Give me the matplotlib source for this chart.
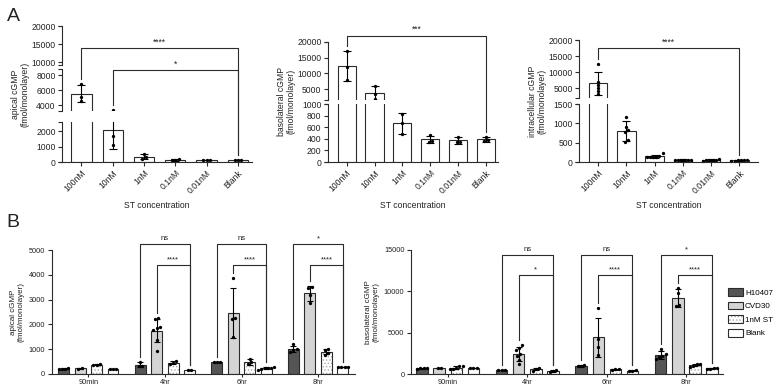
import numpy as np
import matplotlib
matplotlib.use('Agg')
import matplotlib.pyplot as plt
from matplotlib.patches import Patch

# ---- data ----
conc = ['100nM', '10nM', '1nM', '0.1nM', '0.01nM', 'Blank']

apical_mean = [5500, 2040, 340, 150, 110, 110]
apical_sd = [1150, 1170, 160, 60, 10, 10]
apical_pts = [[6800, 5100, 4600], [3330, 1700, 1080], [520, 300, 200],
              [220, 110, 110], [110, 110, 110], [110, 110, 110]]

baso_mean = [12400, 3800, 670, 390, 375, 395]
baso_sd = [4650, 2100, 180, 60, 55, 45]
baso_pts = [[17100, 12100, 7900], [6000, 3600, 1800], [840, 680, 490],
            [460, 360, 350], [430, 350, 345], [440, 375, 370]]

intra_mean = [6550, 800, 150, 50, 50, 40]
intra_sd = [3600, 260, 40, 15, 20, 12]
intra_pts = [[12400, 7000, 6000, 5200, 4300, 3100], [1170, 910, 830, 780, 570, 530],
             [220, 160, 140, 130, 120, 130], [60, 50, 40, 55, 45, 40],
             [70, 60, 40, 45, 35, 55], [50, 40, 30, 45, 35, 40]]

# significance brackets: (from, to, height, label)
apical_sig = [(0, 5, 13900, '****'), (1, 5, 8670, '*')]
baso_sig = [(0, 5, 21950, '***')]
intra_sig = [(0, 5, 17400, '****')]

times = ['90min', '4hr', '6hr', '8hr']
strains = ['H10407', 'CVD30', '1nM ST', 'Blank']

b_api_mean = [[210, 380, 485, 1010],
              [230, 1750, 2460, 3250],
              [380, 460, 490, 890],
              [200, 165, 230, 290]]
b_api_sd = [[20, 110, 15, 130],
            [15, 450, 1010, 300],
            [15, 60, 110, 100],
            [10, 5, 40, 5]]
b_api_pts = [[[190, 210, 230, 215], [500, 330, 310], [480, 500, 475], [1200, 970, 880, 990]],
             [[220, 240], [2240, 2200, 1880, 1840, 1770, 1370, 930], [3880, 2240, 2200, 1500], [3520, 3450, 3180, 2850]],
             [[370, 390, 380], [535, 455, 400], [600, 470, 400], [1000, 960, 840, 770]],
             [[190, 200, 210], [170, 160], [300, 250, 200, 240, 180, 230], [290, 290, 290, 290]]]

b_baso_mean = [[720, 520, 1000, 2330],
               [800, 2450, 4450, 9230],
               [780, 600, 600, 1100],
               [720, 400, 420, 700]]
b_baso_sd = [[60, 20, 80, 500],
             [20, 800, 2400, 1100],
             [170, 100, 80, 150],
             [20, 150, 80, 80]]
b_baso_pts = [[[650, 700, 760, 780], [520, 520, 510], [1100, 1000, 950], [3000, 2500, 2200, 2100, 1900]],
              [[810, 790], [3500, 3200, 2900, 2500, 2200, 1700, 1200], [8000, 4200, 3300, 2300], [10450, 9850, 8360, 8280]],
              [[700, 950, 1000, 650, 600], [700, 650, 450], [650, 600, 550], [1250, 1200, 1050, 900]],
              [[720, 740, 700], [520, 300, 380], [500, 400, 360], [800, 700, 650, 650]]]

b_api_sig = [(5240, ['ns', 'ns', '*']), (4400, ['****', '****', '****'])]
b_baso_sig = [(14390, ['ns', 'ns', '*']), (11980, ['*', '****', '****'])]

plt.rcParams['font.family'] = ['Liberation Sans', 'DejaVu Sans']
plt.rcParams['font.size'] = 6.2
plt.rcParams['hatch.linewidth'] = 0.6

INK = '#2b2b2b'
TXT = '#222222'
W, H = 776, 388
fig = plt.figure(figsize=(W / 100, H / 100), dpi=100)


def box(l, r, t, b):
    return [l / W, 1 - b / H, (r - l) / W, (b - t) / H]


def style(ax, size):
    for s in ['top', 'right']:
        ax.spines[s].set_visible(False)
    for s in ['left', 'bottom']:
        ax.spines[s].set_color(INK)
        ax.spines[s].set_linewidth(0.8)
    ax.tick_params(length=3, width=0.8, color=INK, labelcolor=TXT, labelsize=size, pad=1.5)


def shift_px(ax, x, y, dpx):
    p = ax.transData.transform((x, y))
    return ax.transData.inverted().transform((p[0], p[1] + dpx))[1]


def swarm(ax, x, vals, step=3.2):
    vals = np.asarray(vals, float)
    py = ax.transData.transform(np.column_stack([np.full(len(vals), x), vals]))[:, 1]
    unit = ax.transData.transform((1, 0))[0] - ax.transData.transform((0, 0))[0]
    order = np.argsort(py)
    xs = np.full(len(vals), float(x))

    def flush(c):
        k = len(c)
        for j, idx in enumerate(c):
            xs[idx] = x + (j - (k - 1) / 2) * step / unit

    cluster = [order[0]]
    for idx in order[1:]:
        if py[idx] - py[cluster[-1]] < 2.5:
            cluster.append(idx)
        else:
            flush(cluster)
            cluster = [idx]
    flush(cluster)
    ax.plot(xs, vals, 'o', ms=2.4, color='black', mew=0, zorder=2.4, clip_on=False)


def bracket(ax, x1, x2, y, top1, top2, label, size):
    y1 = shift_px(ax, x1, top1, 5)
    y2 = shift_px(ax, x2, top2, 5)
    ax.plot([x1, x1, x2, x2], [y1, y, y, y2], color=INK, lw=0.8, clip_on=False, zorder=3)
    ax.annotate(label, xy=((x1 + x2) / 2, y), xytext=(0, 1.2), textcoords='offset points',
                ha='center', va='bottom', fontsize=size, color=TXT, annotation_clip=False)


def broken_y(ax, segs, px, ticks):
    d = [v for s in segs for v in s]
    p = [v for s in px for v in s]
    slope = (p[-1] - p[-2]) / (d[-1] - d[-2])
    top = d[-1]
    d.append(top * 4)
    p.append(p[-1] + slope * top * 3)
    d_arr, p_arr = np.array(d, float), np.array(p, float)
    ax.set_yscale('function', functions=(lambda y: np.interp(y, d_arr, p_arr),
                                         lambda q: np.interp(q, p_arr, d_arr)))
    ax.set_ylim(0, top)
    ax.set_yticks(ticks)
    ax.set_yticklabels([str(t) for t in ticks])
    ax.spines['left'].set_visible(False)
    for lo, hi in segs:
        ax.plot([0, 0], [lo, hi], transform=ax.get_yaxis_transform(), color=INK, lw=0.8,
                marker=0, ms=3, mew=0.8, clip_on=False, zorder=3)
    for a, b in zip(segs[:-1], segs[1:]):
        ax.axhspan(a[1], b[0], color='white', lw=0, zorder=2.6)


def panel_a(rect, xlim, segs, px, ticks, means, sds, pts, ylabel, sig):
    ax = fig.add_axes(rect)
    style(ax, 6.2)
    broken_y(ax, segs, px, ticks)
    ax.set_xlim(*xlim)
    x = np.arange(len(conc))
    ax.bar(x, means, width=0.65, color='white', edgecolor=INK, lw=0.8, zorder=1)
    ax.errorbar(x, means, yerr=sds, fmt='none', ecolor='black', elinewidth=0.8,
                capsize=3, capthick=0.8, zorder=2.2)
    for i in x:
        swarm(ax, i, pts[i])
    ax.set_xticks(x)
    ax.set_xticklabels(conc, rotation=45, ha='right', rotation_mode='anchor')
    ax.set_xlabel('ST concentration', labelpad=4, color=TXT, fontsize=6.2)
    ax.set_ylabel(ylabel, labelpad=1, linespacing=1.15, color=TXT, fontsize=6.2)
    tops = [max(m + s, max(v)) for m, s, v in zip(means, sds, pts)]
    for i, j, y, lab in sig:
        bracket(ax, i, j, y, tops[i], tops[j], lab, 6.2)
    return ax


def panel_b(rect, xlim, ymax, yticks, means, sds, pts, ylabel, sig):
    ax = fig.add_axes(rect)
    style(ax, 5.3)
    ax.tick_params(axis='x', length=2.5, pad=0.8)
    ax.set_xlim(*xlim)
    ax.set_ylim(0, ymax)
    ax.set_yticks(yticks)
    offs = (np.arange(4) - 1.5) * 0.215
    fills = ['#555555', '#d4d4d4', 'white', 'white']
    t = np.arange(len(times))
    tops = []
    for g in range(4):
        xs = t + offs[g]
        if g == 2:
            ax.bar(xs, means[g], 0.143, color='white', edgecolor='#a8a8a8', hatch='.....', lw=0, zorder=1)
            ax.bar(xs, means[g], 0.143, fill=False, edgecolor=INK, lw=0.8, zorder=1.1)
        else:
            ax.bar(xs, means[g], 0.143, color=fills[g], edgecolor=INK, lw=0.8, zorder=1)
        ax.errorbar(xs, means[g], yerr=sds[g], fmt='none', ecolor='black', elinewidth=0.8,
                    capsize=2.5, capthick=0.8, zorder=2.2)
        for k in t:
            swarm(ax, xs[k], pts[g][k])
        tops.append([max(m + s, max(v)) for m, s, v in zip(means[g], sds[g], pts[g])])
    ax.set_xticks(t)
    ax.set_xticklabels(times)
    ax.set_ylabel(ylabel, labelpad=3, linespacing=1.15, color=TXT, fontsize=5.8)
    for row, (y, labs) in enumerate(sig):
        g0 = 0 if row == 0 else 1
        for k in range(1, 4):
            bracket(ax, k + offs[g0], k + offs[3], y, tops[g0][k], tops[3][k], labs[k - 1], 5.6)
    return ax


panel_a(box(62, 252, 26, 162), (-0.62, 5.45),
        [(0, 2600), (3200, 8800), (9200, 20000)], [(0, 40.3), (51, 93), (97.1, 136)],
        [0, 1000, 2000, 4000, 6000, 8000, 10000, 15000, 20000],
        apical_mean, apical_sd, apical_pts, 'apical cGMP\n(fmol/monolayer)', apical_sig)

panel_a(box(327.7, 498, 41.7, 162), (-0.68, 5.43),
        [(0, 1000), (1600, 20000)], [(0, 57.7), (61.9, 120.3)],
        [0, 200, 400, 600, 800, 1000, 5000, 10000, 15000, 20000],
        baso_mean, baso_sd, baso_pts, 'basolateral cGMP\n(fmol/monolayer)', baso_sig)

panel_a(box(579, 758, 40, 162), (-0.68, 5.66),
        [(0, 1500), (1900, 20000)], [(0, 58), (63.7, 122)],
        [0, 500, 1000, 1500, 5000, 10000, 15000, 20000],
        intra_mean, intra_sd, intra_pts, 'intracellular cGMP\n(fmol/monolayer)', intra_sig)

panel_b(box(51.5, 355, 250, 374), (-0.48, 3.48), 5000, [0, 1000, 2000, 3000, 4000, 5000],
        b_api_mean, b_api_sd, b_api_pts, 'apical cGMP\n(fmol/monolayer)', b_api_sig)

panel_b(box(410.7, 723, 250, 374.3), (-0.465, 3.46), 15000, [0, 5000, 10000, 15000],
        b_baso_mean, b_baso_sd, b_baso_pts, 'basolateral cGMP\n(fmol/monolayer)', b_baso_sig)

handles = [Patch(facecolor='#555555', edgecolor=INK, lw=0.8),
           Patch(facecolor='#d4d4d4', edgecolor=INK, lw=0.8),
           (Patch(facecolor='white', edgecolor='#a8a8a8', hatch='.....', lw=0),
            Patch(fill=False, edgecolor=INK, lw=0.8)),
           Patch(facecolor='white', edgecolor=INK, lw=0.8)]
fig.legend(handles, strains, loc='upper left', bbox_to_anchor=(728 / W, 1 - 288 / H),
           frameon=False, handlelength=1.9, handleheight=1.1, handletextpad=0.2,
           labelspacing=0.62, borderpad=0, borderaxespad=0, fontsize=5.8)

fig.text(7 / W, 1 - 20.7 / H, 'A', fontsize=14, va='baseline', ha='left', color=TXT)
fig.text(6 / W, 1 - 226.7 / H, 'B', fontsize=14, va='baseline', ha='left', color=TXT)

fig.savefig('out.png', dpi=100)
